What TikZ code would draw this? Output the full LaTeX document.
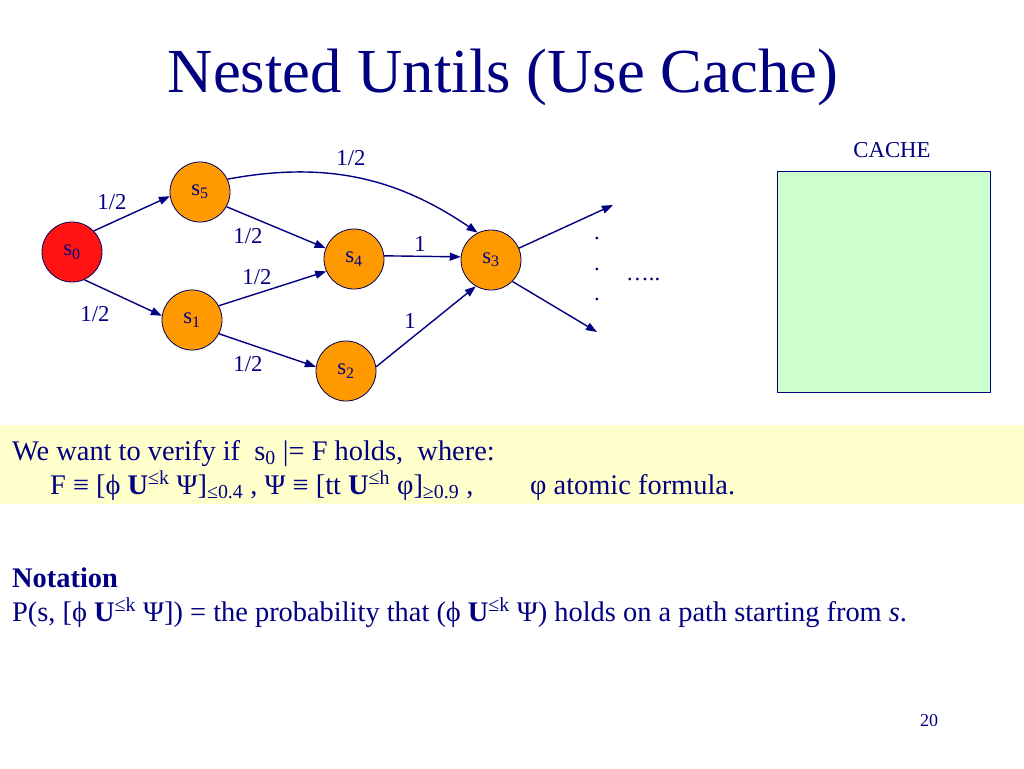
\documentclass[tikz,border=0pt]{standalone}
\usepackage{fontspec}
\setmainfont{Liberation Serif}
\usetikzlibrary{arrows.meta}
\definecolor{navy}{RGB}{0,0,128}
\definecolor{orangefill}{RGB}{255,153,0}
\definecolor{redfill}{RGB}{255,20,20}
\definecolor{cachegreen}{RGB}{204,255,204}
\definecolor{bandyellow}{RGB}{255,255,204}
\newcommand{\fs}[1]{\fontsize{#1}{#1}\selectfont}
\tikzset{
  state/.style={circle, draw=navy!70!black, line width=0.8pt, fill=orangefill, minimum size=60pt, inner sep=0pt, text=navy, font=\fs{22.75}},
  edge/.style={draw=navy, line width=1.4pt, -{Triangle[length=11pt,width=8pt]}},
  lbl/.style={text=navy, font=\fs{22.75}, inner sep=0pt},
  body/.style={text=navy, font=\fs{28.4}, inner sep=0pt, anchor=base west},
}
\begin{document}
\begin{tikzpicture}[x=1pt,y=-1pt]
\useasboundingbox (0,0) rectangle (1024,768);
\fill[white] (0,0) rectangle (1024,768);
% title
\node[text=navy, font=\fs{62.7}, inner sep=0pt, anchor=base] (title) at (503,92) {Nested Untils (Use Cache)};
% states
\node[state, fill=redfill] (s0) at (72,252) {s\textsubscript{0}};
\node[state] (s5) at (200,192) {s\textsubscript{5}};
\node[state] (s1) at (192,320) {s\textsubscript{1}};
\node[state] (s4) at (354,259) {s\textsubscript{4}};
\node[state] (s2) at (346,371) {s\textsubscript{2}};
\node[state] (s3) at (491,260) {s\textsubscript{3}};
\coordinate (o1) at (613,205);
\coordinate (o2) at (597,332);
% edges
\draw[edge] (s0.44) -- (s5.188);
\draw[edge] (s0.-66) -- (s1.172);
\draw[edge] (s5.-29) -- (s4.159);
\draw[edge] (s1.28) -- (s4.204);
\draw[edge] (s1.-27) -- (s2.172);
\draw[edge] (s4.6) -- (s3.174);
\draw[edge] (s2.8) -- (s3.240);
\draw[edge] (s5.25) .. controls (330,160) and (400,180) .. (s3.116);
\draw[edge] (s3.23) -- (o1);
\draw[edge] (s3.-45) -- (o2);
% edge labels
\node[lbl] (l1) at (112,202) {1/2};
\node[lbl] (l2) at (95,314) {1/2};
\node[lbl] (l3) at (248,236) {1/2};
\node[lbl] (l4) at (257,277) {1/2};
\node[lbl] (l5) at (248,364) {1/2};
\node[lbl] (l6) at (351,158) {1/2};
\node[lbl] (l7) at (420,244) {1};
\node[lbl] (l8) at (410,321) {1};
% dots
\node[lbl] (d1) at (597,238) {.};
\node[lbl] (d2) at (597,269) {.};
\node[lbl] (d3) at (597,299) {.};
\node[lbl, anchor=base west] (d4) at (626,280) {…..};
% cache
\node[lbl] (cachelbl) at (892,150) {CACHE};
\draw[draw=navy, line width=0.8pt, fill=cachegreen] (777,171) rectangle (990,392);
% yellow band
\fill[bandyellow] (0,425) rectangle (1024,504);
\node[body] (t1) at (12,460) {We want to verify if\ \ s\textsubscript{0} |= F holds,\ \ where:};
\node[body] (t2) at (50,494) {F ≡ [ϕ \textbf{U}\textsuperscript{≤k} Ψ]\textsubscript{≤0.4} , Ψ ≡ [tt \textbf{U}\textsuperscript{≤h} φ]\textsubscript{≥0.9} ,};
\node[body] (t3) at (530,494) {φ atomic formula.};
% notation
\node[body, font=\fs{28.4}\bfseries] (n1) at (12,587) {Notation};
\node[body] (n2) at (12,621) {P(s, [ϕ \textbf{U}\textsuperscript{≤k} Ψ]) = the probability that (ϕ \textbf{U}\textsuperscript{≤k} Ψ) holds on a path starting from \textit{s}.};
\node[text=navy, font=\fs{18}, inner sep=0pt, anchor=base] (pg) at (929,726) {20};
\end{tikzpicture}
\end{document}
